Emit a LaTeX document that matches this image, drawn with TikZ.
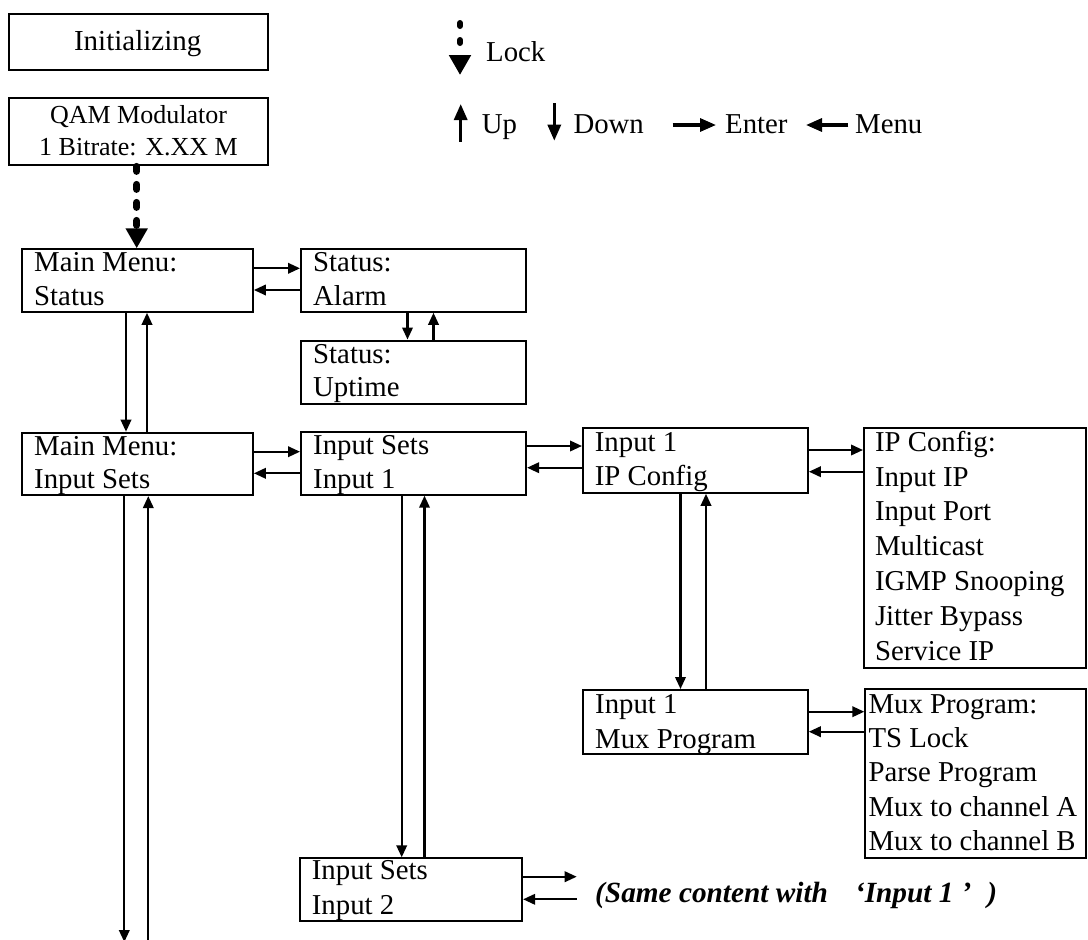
\documentclass[tikz,border=0pt]{standalone}
\usepackage{fontspec}
\setmainfont{Liberation Serif}
\usetikzlibrary{arrows.meta}

\tikzset{
  box/.style={draw, line width=2.1pt, inner sep=0pt, anchor=north west},
  boxtext/.style={anchor=north west, inner sep=0pt, align=left,
                  font=\fontsize{28.8}{#1}\selectfont},
  keytext/.style={anchor=base west, inner sep=0pt, font=\fontsize{28.8}{34}\selectfont},
  link/.style={line width=2.1pt, -{Triangle[length=12pt,width=10.5pt]}},
  key/.style={line width=3.2pt, -{Triangle[length=16pt,width=13pt]}},
  lockline/.style={line width=#1, line cap=round, dash pattern=on 5pt off 13pt,
                   -{Triangle[length=20pt,width=21pt]}},
}
\newcommand{\firstline}{\rule{0pt}{24pt}}

\begin{document}
\begin{tikzpicture}[x=1pt,y=-1pt]
\useasboundingbox (0,0) rectangle (1088,940);

% ---- start-up screens
\node[box, minimum width=258.7pt, minimum height=56.6pt] (init) at (8.3,12.7) {};
\node[anchor=base, inner sep=0pt, font=\fontsize{29}{34}\selectfont] (init-t) at (137.7,50) {Initializing};
\node[box, minimum width=258.7pt, minimum height=67.6pt] (qam) at (8.3,96.7) {};
\node[anchor=north, inner sep=0pt, align=center, font=\fontsize{26}{31.7}\selectfont] (qam-t) at (138.5,101.3)
  {\rule{0pt}{22pt}QAM Modulator\\1 Bitrate: X.XX M};

% ---- key
\coordinate (lockA) at (460,23);   \coordinate (lockB) at (460,75);
\draw[lockline=6pt, dash pattern=on 3pt off 14pt] (lockA) -- (lockB);
\node[keytext] (lock-t) at (486,61.7) {Lock};
\coordinate (upA) at (460.7,141.7);  \coordinate (upB) at (460.7,104);
\draw[key] (upA) -- (upB);
\node[keytext] (up-t) at (481.7,133.3) {Up};
\coordinate (dnA) at (554.3,103);    \coordinate (dnB) at (554.3,140.7);
\draw[key] (dnA) -- (dnB);
\node[keytext] (dn-t) at (573.3,133.3) {Down};
\coordinate (enA) at (672.7,125);    \coordinate (enB) at (716,125);
\draw[key] (enA) -- (enB);
\node[keytext] (en-t) at (725,133.3) {Enter};
\coordinate (mnA) at (848.3,125);    \coordinate (mnB) at (806,125);
\draw[key] (mnA) -- (mnB);
\node[keytext] (mn-t) at (855,133.3) {Menu};

% ---- menu screens
\node[box, minimum width=231.1pt, minimum height=62.4pt] (mms) at (20.7,248.3) {};
\node[boxtext=33.3pt] (mms-t) at (34,247.7) {\firstline Main Menu:\\Status};
\node[box, minimum width=225pt, minimum height=62.4pt] (alarm) at (300,248.3) {};
\node[boxtext=33.3pt] (alarm-t) at (313,247.7) {\firstline Status:\\Alarm};
\node[box, minimum width=225pt, minimum height=63.2pt] (uptime) at (300,339.5) {};
\node[boxtext=33.4pt] (uptime-t) at (313,339.3) {\firstline Status:\\Uptime};

\node[box, minimum width=231.1pt, minimum height=62.3pt] (mmi) at (20.7,431.7) {};
\node[boxtext=33.3pt] (mmi-t) at (34,431) {\firstline Main Menu:\\Input Sets};
\node[box, minimum width=225pt, minimum height=62.3pt] (is1) at (300,431.3) {};
\node[boxtext=33.8pt] (is1-t) at (313,430.2) {\firstline Input Sets\\Input 1};
\node[box, minimum width=224.8pt, minimum height=65pt] (ipc) at (582,426.7) {};
\node[boxtext=34.6pt] (ipc-t) at (594.7,427) {\firstline Input 1\\IP Config};
\node[box, minimum width=222pt, minimum height=240pt] (ipcfg) at (863,426.7) {};
\node[boxtext=34.8pt] (ipcfg-t) at (874.8,427)
  {\firstline IP Config:\\Input IP\\Input Port\\Multicast\\IGMP Snooping\\Jitter Bypass\\Service IP};
\node[box, minimum width=224.4pt, minimum height=63.7pt] (mux1) at (582.3,689) {};
\node[boxtext=35pt] (mux1-t) at (595,689.3) {\firstline Input 1\\Mux Program};
\node[box, minimum width=220.7pt, minimum height=169pt] (muxp) at (864.3,688.3) {};
\node[boxtext=34.2pt] (muxp-t) at (868.3,689.3)
  {\firstline Mux Program:\\TS Lock\\Parse Program\\Mux to channel A\\Mux to channel B};
\node[box, minimum width=222pt, minimum height=62.7pt] (is2) at (299,857.3) {};
\node[boxtext=35pt] (is2-t) at (311.7,855) {\firstline Input Sets\\Input 2};
\node[anchor=base west, inner sep=0pt, font=\fontsize{29.3}{34}\selectfont\bfseries\itshape] (same-t) at (595,902)
  {(Same content with\hspace{27pt}‘Input 1\hspace{8pt}’\hspace{16pt})};

% ---- lock transition
\draw[lockline=7pt] (qam.south -| 136.7,0) -- (mms.north -| 136.7,0);

% ---- navigation
\draw[link] (mms.east |- 0,268.3) -- (alarm.west |- 0,268.3);
\draw[link] (alarm.west |- 0,290) -- (mms.east |- 0,290);
\draw[link] (alarm.south -| 407.5,0) -- (uptime.north -| 407.5,0);
\draw[link] (uptime.north -| 433.5,0) -- (alarm.south -| 433.5,0);

\draw[link] (mms.south -| 126,0) -- (mmi.north -| 126,0);
\draw[link] (mmi.north -| 147,0) -- (mms.south -| 147,0);

\draw[link] (mmi.east |- 0,451.7) -- (is1.west |- 0,451.7);
\draw[link] (is1.west |- 0,473.3) -- (mmi.east |- 0,473.3);
\draw[link] (is1.east |- 0,446) -- (ipc.west |- 0,446);
\draw[link] (ipc.west |- 0,467.7) -- (is1.east |- 0,467.7);
\draw[link] (ipc.east |- 0,450) -- (ipcfg.west |- 0,450);
\draw[link] (ipcfg.west |- 0,471.7) -- (ipc.east |- 0,471.7);

\draw[link] (ipc.south -| 680.5,0) -- (mux1.north -| 680.5,0);
\draw[link] (mux1.north -| 706,0) -- (ipc.south -| 706,0);
\draw[link] (mux1.east |- 0,711.7) -- (muxp.west |- 0,711.7);
\draw[link] (muxp.west |- 0,731.7) -- (mux1.east |- 0,731.7);

\draw[link] (is1.south -| 401.7,0) -- (is2.north -| 401.7,0);
\draw[link] (is2.north -| 424.5,0) -- (is1.south -| 424.5,0);

\coordinate (moreR) at (576.7,876.7);
\coordinate (moreL) at (576.7,899.3);
\draw[link] (is2.east |- moreR) -- (moreR);
\draw[link] (moreL) -- (is2.east |- moreL);

\coordinate (downEnd) at (124.3,942);
\coordinate (upStart) at (148.3,942);
\draw[link] (mmi.south -| downEnd) -- (downEnd);
\draw[link] (upStart) -- (mmi.south -| upStart);
\end{tikzpicture}
\end{document}
